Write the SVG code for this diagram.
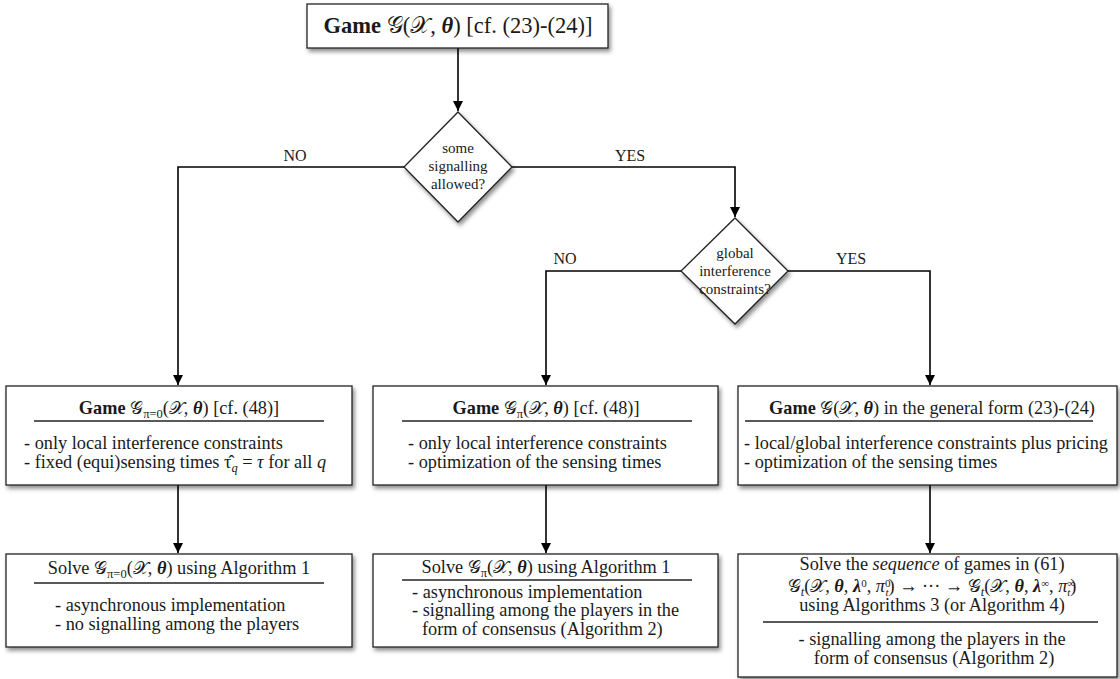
<svg xmlns="http://www.w3.org/2000/svg" width="1120" height="679" viewBox="0 0 1120 679" font-family="Liberation Serif, Times New Roman, serif">
<style>
text{fill:#1a1a1a;}
.t{font-size:18.3px;}
.h{font-size:18.3px;text-anchor:middle;}
.big{font-size:22.5px;text-anchor:middle;}
.lbl{font-size:16px;text-anchor:middle;}
.dia{font-size:15px;text-anchor:middle;}
.s{font-size:12.5px;}
.ss{font-size:11px;}
.box{fill:#fff;stroke:#222;stroke-width:1.3;filter:url(#sh);}
.rule{stroke:#222;stroke-width:1.3;}
.con{fill:none;stroke:#000;stroke-width:1.6;marker-end:url(#ah);}
.b{font-weight:bold;}
.bi{font-weight:bold;font-style:italic;}
.i{font-style:italic;}
</style>
<defs>
<filter id="sh" x="-10%" y="-10%" width="130%" height="140%">
<feDropShadow dx="2" dy="3" stdDeviation="2.2" flood-color="#000" flood-opacity="0.45"/>
</filter>
<marker id="ah" viewBox="0 0 10 10" refX="10" refY="5" markerWidth="6.5" markerHeight="6.5" markerUnits="strokeWidth" orient="auto">
<path d="M0,0 L10,5 L0,10 z" fill="#000"/>
</marker>
</defs>

<g id="connectors">
<path class="con" d="M458,48 L458,111"/>
<path class="con" d="M404,167 L178,167 L178,385"/>
<path class="con" d="M512,167 L735,167 L735,217"/>
<path class="con" d="M681,271 L546,271 L546,385"/>
<path class="con" d="M788,271 L930,271 L930,385"/>
<path class="con" d="M178,485 L178,553"/>
<path class="con" d="M546,485 L546,553"/>
<path class="con" d="M930,485 L930,553"/>
<text class="lbl" x="295" y="161">NO</text>
<text class="lbl" x="630" y="161">YES</text>
<text class="lbl" x="565" y="264">NO</text>
<text class="lbl" x="851" y="264">YES</text>
</g>

<g id="start">
<rect class="box" x="307" y="4" width="301" height="44"/>
<text class="big" x="458" y="33"><tspan class="b">Game</tspan> 𝒢(𝒳, <tspan class="bi">θ</tspan>) [cf. (23)-(24)]</text>
</g>

<g id="decision1">
<polygon class="box" points="458,112 512,167 458,222 404,167"/>
<text class="dia" x="458" y="153">some</text>
<text class="dia" x="458" y="171">signalling</text>
<text class="dia" x="458" y="189">allowed?</text>
</g>

<g id="decision2">
<polygon class="box" points="735,218 788,271 735,324 681,271"/>
<text class="dia" x="735" y="258">global</text>
<text class="dia" x="735" y="276">interference</text>
<text class="dia" x="735" y="294">constraints?</text>
</g>

<g id="game-pi0">
<rect class="box" x="6" y="386" width="346" height="99"/>
<text class="h" x="179" y="414"><tspan class="b">Game</tspan> 𝒢<tspan class="s" baseline-shift="-4">π=0</tspan>(𝒳, <tspan class="bi">θ</tspan>) [cf. (48)]</text>
<line class="rule" x1="34" y1="421" x2="324" y2="421"/>
<text class="t" x="24" y="449">- only local interference constraints</text>
<text class="t" x="24" y="468">- fixed (equi)sensing times τ̂<tspan class="s i" baseline-shift="-4">q</tspan> = <tspan class="i">τ</tspan> for all <tspan class="i">q</tspan></text>
</g>

<g id="game-pi">
<rect class="box" x="373" y="386" width="345" height="99"/>
<text class="h" x="546" y="414"><tspan class="b">Game</tspan> 𝒢<tspan class="s" baseline-shift="-4">π</tspan>(𝒳, <tspan class="bi">θ</tspan>) [cf. (48)]</text>
<line class="rule" x1="402" y1="421" x2="692" y2="421"/>
<text class="t" x="408" y="449">- only local interference constraints</text>
<text class="t" x="408" y="468">- optimization of the sensing times</text>
</g>

<g id="game-general">
<rect class="box" x="738" y="386" width="379" height="99"/>
<text class="h" x="932" y="414"><tspan class="b">Game</tspan> 𝒢(𝒳, <tspan class="bi">θ</tspan>) in the general form (23)-(24)</text>
<line class="rule" x1="745" y1="421" x2="1093" y2="421"/>
<text class="t" x="744" y="449">- local/global interference constraints plus pricing</text>
<text class="t" x="744" y="468">- optimization of the sensing times</text>
</g>

<g id="solve-pi0">
<rect class="box" x="6" y="554" width="346" height="93"/>
<text class="h" x="179" y="574">Solve 𝒢<tspan class="s" baseline-shift="-4">π=0</tspan>(𝒳, <tspan class="bi">θ</tspan>) using Algorithm 1</text>
<line class="rule" x1="34" y1="583" x2="324" y2="583"/>
<text class="t" x="55" y="611">- asynchronous implementation</text>
<text class="t" x="55" y="630">- no signalling among the players</text>
</g>

<g id="solve-pi">
<rect class="box" x="373" y="554" width="345" height="93"/>
<text class="h" x="546" y="573">Solve 𝒢<tspan class="s" baseline-shift="-4">π</tspan>(𝒳, <tspan class="bi">θ</tspan>) using Algorithm 1</text>
<line class="rule" x1="402" y1="580" x2="692" y2="580"/>
<text class="t" x="412" y="598">- asynchronous implementation</text>
<text class="t" x="412" y="616">- signalling among the players in the</text>
<text class="t" x="422" y="635">form of consensus (Algorithm 2)</text>
</g>

<g id="solve-sequence">
<rect class="box" x="738" y="554" width="379" height="123"/>
<text class="h" x="932" y="570">Solve the <tspan class="i">sequence</tspan> of games in (61)</text>
<text class="h" x="932" y="592">𝒢<tspan class="s i" baseline-shift="-4">t</tspan>(𝒳, <tspan class="bi">θ</tspan>, <tspan class="bi">λ</tspan><tspan class="ss" baseline-shift="5">0</tspan>, <tspan class="i">π</tspan><tspan class="ss" baseline-shift="5">0</tspan><tspan class="ss i" baseline-shift="-4" dx="-5">t</tspan>) → ··· → 𝒢<tspan class="s i" baseline-shift="-4">t</tspan>(𝒳, <tspan class="bi">θ</tspan>, <tspan class="bi">λ</tspan><tspan class="ss" baseline-shift="5">∞</tspan>, <tspan class="i">π</tspan><tspan class="ss" baseline-shift="5">∞</tspan><tspan class="ss i" baseline-shift="-4" dx="-8">t</tspan>)</text>
<text class="h" x="932" y="611">using Algorithms 3 (or Algorithm 4)</text>
<line class="rule" x1="763" y1="622" x2="1098" y2="622"/>
<text class="h" x="932" y="645">- signalling among the players in the</text>
<text class="h" x="934" y="664">form of consensus (Algorithm 2)</text>
</g>
</svg>
